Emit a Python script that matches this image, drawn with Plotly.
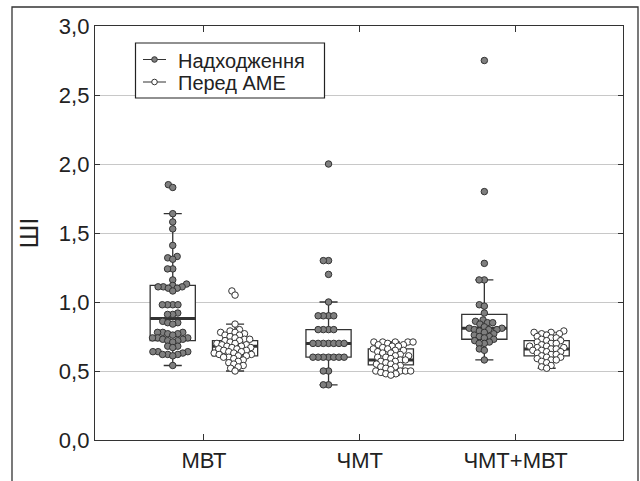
import numpy as np
import plotly.graph_objects as go

categories = ["МВТ", "ЧМТ", "ЧМТ+МВТ"]
series_names = ["Надходження", "Перед АМЕ"]

adm_mvt = [1.85, 1.83, 1.64, 1.58, 1.53, 1.41, 1.33, 1.32, 1.31, 1.24, 1.24, 1.16, 1.13, 1.12,
           1.11, 1.11, 1.11, 1.10, 1.10, 1.08, 0.98, 0.98, 0.98, 0.98, 0.92, 0.91, 0.91, 0.86,
           0.85, 0.85, 0.84, 0.78, 0.78, 0.78, 0.77, 0.77, 0.76, 0.74, 0.74, 0.74, 0.73, 0.73,
           0.72, 0.72, 0.71, 0.68, 0.68, 0.67, 0.64, 0.64, 0.64, 0.63, 0.62, 0.62, 0.62, 0.61, 0.54]
pre_mvt = [1.08, 1.05, 0.84, 0.80, 0.79, 0.78, 0.78, 0.77, 0.76, 0.76, 0.75, 0.74, 0.73, 0.73,
           0.72, 0.72, 0.71, 0.70, 0.70, 0.69, 0.69, 0.68, 0.68, 0.67, 0.67, 0.66, 0.66, 0.65,
           0.65, 0.64, 0.64, 0.63, 0.63, 0.62, 0.62, 0.61, 0.61, 0.60, 0.60, 0.59, 0.58, 0.57,
           0.56, 0.55, 0.54, 0.53, 0.52, 0.50]
adm_chmt = [2.0, 1.3, 1.3, 1.2, 1.0, 0.9, 0.9, 0.9, 0.9, 0.8, 0.8, 0.8, 0.8,
            0.7, 0.7, 0.7, 0.7, 0.7, 0.7, 0.7, 0.6, 0.6, 0.6, 0.6, 0.6, 0.6, 0.6,
            0.5, 0.5, 0.4, 0.4]
pre_chmt = [0.71, 0.71, 0.71, 0.71, 0.71, 0.70, 0.69, 0.69, 0.68, 0.68, 0.67, 0.66, 0.66,
            0.65, 0.65, 0.64, 0.63, 0.63, 0.62, 0.61, 0.61, 0.60, 0.60, 0.59, 0.58, 0.58,
            0.57, 0.57, 0.56, 0.55, 0.55, 0.54, 0.53, 0.53, 0.52, 0.51, 0.50, 0.50, 0.50,
            0.50, 0.49, 0.48, 0.48, 0.47]
adm_both = [2.75, 1.80, 1.28, 1.16, 1.16, 0.98, 0.97, 0.92, 0.87, 0.86, 0.85, 0.85, 0.84,
            0.82, 0.81, 0.81, 0.80, 0.80, 0.80, 0.79, 0.78, 0.77, 0.76, 0.75, 0.75, 0.74,
            0.73, 0.72, 0.71, 0.70, 0.70, 0.66, 0.65, 0.58]
pre_both = [0.79, 0.78, 0.78, 0.77, 0.77, 0.76, 0.75, 0.74, 0.74, 0.73, 0.72, 0.72, 0.71,
            0.70, 0.70, 0.69, 0.68, 0.68, 0.67, 0.67, 0.66, 0.66, 0.65, 0.65, 0.64, 0.64,
            0.63, 0.62, 0.62, 0.61, 0.60, 0.60, 0.59, 0.58, 0.58, 0.57, 0.56, 0.54, 0.53, 0.52]

adm_q1 = [0.72, 0.60, 0.73]
adm_med = [0.88, 0.70, 0.81]
adm_q3 = [1.12, 0.80, 0.91]
adm_lo = [0.54, 0.40, 0.58]
adm_hi = [1.64, 1.00, 1.16]
pre_q1 = [0.61, 0.545, 0.61]
pre_med = [0.68, 0.58, 0.66]
pre_q3 = [0.72, 0.66, 0.72]
pre_lo = [0.50, 0.47, 0.52]
pre_hi = [0.84, 0.71, 0.78]

adm_all = [adm_mvt, adm_chmt, adm_both]
pre_all = [pre_mvt, pre_chmt, pre_both]

# layout geometry (pixels)
W, H = 640, 481
ML, MR, MT, MB = 95, 17, 26, 41
PW, PH = W - ML - MR, H - MT - MB
XR = [-0.699, 2.69]
YR = [0, 3]
PX_PER_X = PW / (XR[1] - XR[0])
PX_PER_Y = PH / (YR[1] - YR[0])
OFFSET = 0.2
BOX_W = 0.29
D_PX = 5.2

DARK = "#333333"
GRAY = "#7f7f7f"


def px2paper_x(px):
    return (px - ML) / PW


def px2paper_y(py):
    return (H - MB - py) / PH


def swarm(vals, d=D_PX):
    vals = np.asarray(vals, float)
    order = np.argsort(vals, kind="stable")
    placed = []
    offs = np.zeros(len(vals))
    for i in order:
        y = vals[i] * PX_PER_Y
        cands = [0.0]
        for px, py in placed:
            dy = abs(py - y)
            if dy < d:
                dx = np.sqrt(d * d - dy * dy)
                cands += [px + dx, px - dx]
        cands.sort(key=lambda c: (abs(c), c))
        chosen = cands[-1]
        for c in cands:
            if all((c - px) ** 2 + (y - py) ** 2 >= d * d - 1e-6 for px, py in placed):
                chosen = c
                break
        placed.append((chosen, y))
        offs[i] = chosen / PX_PER_X
    return offs


fig = go.Figure()
series = [
    (series_names[0], adm_all, adm_q1, adm_med, adm_q3, adm_lo, adm_hi, GRAY, -1),
    (series_names[1], pre_all, pre_q1, pre_med, pre_q3, pre_lo, pre_hi, "white", 1),
]

for name, data, q1, med, q3, lo, hi, fill, sgn in series:
    for g in range(len(categories)):
        pos = g + sgn * OFFSET
        fig.add_trace(go.Box(
            x=[pos], q1=[q1[g]], median=[med[g]], q3=[q3[g]],
            lowerfence=[lo[g]], upperfence=[hi[g]],
            width=BOX_W, whiskerwidth=0.4, boxpoints=False,
            fillcolor="rgba(255,255,255,1)", line=dict(color=DARK, width=1.3),
            showlegend=False, hoverinfo="skip"))
        fig.add_trace(go.Scatter(
            x=[pos - BOX_W / 2, pos + BOX_W / 2], y=[med[g], med[g]],
            mode="lines", line=dict(color=DARK, width=3),
            showlegend=False, hoverinfo="skip"))
    for g in range(len(categories)):
        pos = g + sgn * OFFSET
        vals = data[g]
        xs = pos + swarm(vals)
        fig.add_trace(go.Scatter(
            x=xs, y=vals, mode="markers", name=name,
            marker=dict(size=6.5, color=fill, line=dict(color=DARK, width=1)),
            showlegend=False))

# manual legend (box, symbols, labels)
LEG_BOX = (135.5, 43, 324.5, 98)
LEG_ROWS = [59.5, 82]
fig.add_shape(type="rect", xref="paper", yref="paper",
              x0=px2paper_x(LEG_BOX[0]), x1=px2paper_x(LEG_BOX[2]),
              y0=px2paper_y(LEG_BOX[3]), y1=px2paper_y(LEG_BOX[1]),
              line=dict(color="#222222", width=1.2), fillcolor="white", layer="above")
for (name, *_rest), ry in zip(series, LEG_ROWS):
    fill = _rest[-2]
    fig.add_shape(type="line", xref="paper", yref="paper",
                  x0=px2paper_x(143), x1=px2paper_x(166),
                  y0=px2paper_y(ry), y1=px2paper_y(ry),
                  line=dict(color=DARK, width=1), layer="above")
    r = 2.8
    fig.add_shape(type="circle", xref="paper", yref="paper",
                  x0=px2paper_x(154.5 - r), x1=px2paper_x(154.5 + r),
                  y0=px2paper_y(ry + r), y1=px2paper_y(ry - r),
                  line=dict(color=DARK, width=1), fillcolor=fill, layer="above")
    fig.add_annotation(text=name, xref="paper", yref="paper",
                       x=px2paper_x(176), y=px2paper_y(ry + 1),
                       xanchor="left", yanchor="middle", showarrow=False,
                       font=dict(size=20, color="#222222"))

fig.update_layout(
    width=W, height=H,
    margin=dict(l=ML, r=MR, t=MT, b=MB),
    paper_bgcolor="white", plot_bgcolor="white",
    separators=", ",
    font=dict(family="Liberation Sans, Arial, sans-serif", size=22, color="#222222"),
    showlegend=False,
    xaxis=dict(range=XR, tickvals=[0, 1, 2], ticktext=categories, automargin=False,
               showgrid=False, zeroline=False, showline=True, linecolor=DARK, linewidth=1.3,
               ticks="inside", ticklen=6, tickcolor=DARK, mirror="ticks"),
    yaxis=dict(range=YR, dtick=0.5, tickformat=".1f", showgrid=True, gridcolor="#c8c8c8",
               gridwidth=1.2, zeroline=False, showline=True, linecolor=DARK, linewidth=1.3,
               ticks="inside", ticklen=5, tickcolor=DARK, mirror="ticks", automargin=False,
               title=dict(text="ШІ", standoff=12)),
)

fig.add_shape(type="rect", xref="paper", yref="paper",
              x0=px2paper_x(12), x1=px2paper_x(638),
              y0=px2paper_y(H + 20), y1=px2paper_y(7),
              line=dict(color=DARK, width=1.3), layer="below")

fig.write_html("out.html")
